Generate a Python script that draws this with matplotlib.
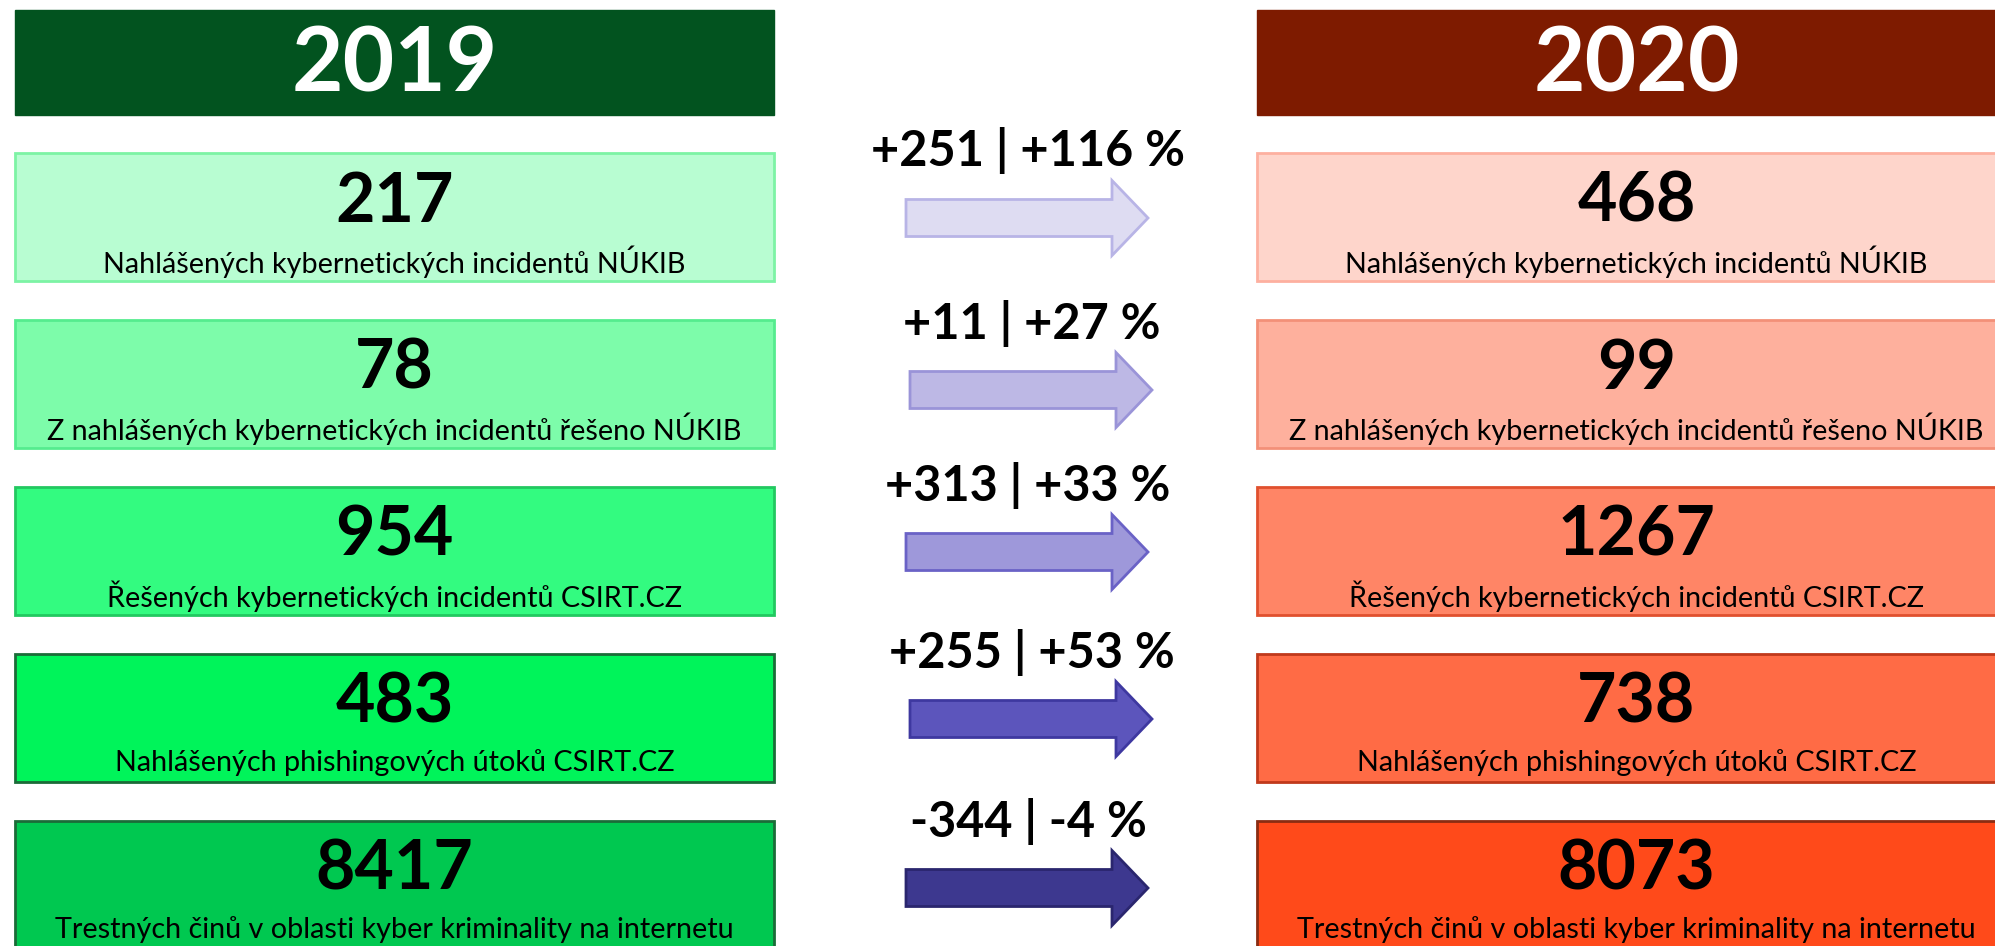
import matplotlib
matplotlib.use("Agg")
import matplotlib.pyplot as plt
from matplotlib.patches import Rectangle, FancyArrow

plt.rcParams['font.family'] = ['Lato', 'DejaVu Sans']

years = ["2019", "2020"]
labels = ["Nahlášených kybernetických incidentů NÚKIB",
          "Z nahlášených kybernetických incidentů řešeno NÚKIB",
          "Řešených kybernetických incidentů CSIRT.CZ",
          "Nahlášených phishingových útoků CSIRT.CZ",
          "Trestných činů v oblasti kyber kriminality na internetu"]
values_2019 = [217, 78, 954, 483, 8417]
values_2020 = [468, 99, 1267, 738, 8073]
change_abs = ["+251", "+11", "+313", "+255", "-344"]
change_pct = ["+116 %", "+27 %", "+33 %", "+53 %", "-4 %"]

# colours
head_cols = ["#02531F", "#7E1B00"]
green_fill = ["#B8FDD2", "#7DFCAA", "#33FB80", "#00F45A", "#00C850"]
green_edge = ["#7DF3A5", "#55EC8E", "#22C860", "#1B6B38", "#1B6B38"]
red_fill = ["#FED5CB", "#FEB09D", "#FF8566", "#FF6B45", "#FF4A1A"]
red_edge = ["#FDB0A0", "#F39078", "#E0502E", "#C0391B", "#8A2C12"]
arr_fill = ["#DEDCF2", "#BDB8E5", "#9E98DA", "#5C55BC", "#3D388F"]
arr_edge = ["#B8B4E6", "#9A94D8", "#6A62C6", "#3E38A0", "#2A266E"]

W, H = 1995, 946
fig = plt.figure(figsize=(W / 100, H / 100), dpi=100)
ax = fig.add_axes([0, 0, 1, 1])
ax.set_xlim(0, W)
ax.set_ylim(H, 0)
ax.axis("off")

col_x = [15, 1257]
col_w = 759
row_top = [153, 320, 487, 654, 821]
box_h = 128

# headers
for i, yr in enumerate(years):
    ax.add_patch(Rectangle((col_x[i], 10), col_w, 105, facecolor=head_cols[i],
                           edgecolor=head_cols[i], lw=1))
    ax.text(col_x[i] + col_w / 2, 66, yr, color="white", fontsize=64,
            fontweight="bold", ha="center", va="center")

# boxes
for j in range(len(labels)):
    for i, (vals, fc, ec) in enumerate([(values_2019, green_fill, green_edge),
                                         (values_2020, red_fill, red_edge)]):
        x0 = col_x[i]
        ax.add_patch(Rectangle((x0, row_top[j]), col_w, box_h, facecolor=fc[j],
                               edgecolor=ec[j], lw=2))
        ax.text(x0 + col_w / 2, row_top[j] + 49, str(vals[j]), fontsize=49,
                fontweight="bold", ha="center", va="center", color="black")
        ax.text(x0 + col_w / 2, row_top[j] + 109, labels[j], fontsize=20.7,
                ha="center", va="center", color="black")

# arrows and changes
arr_y = [218, 390, 552, 719, 888]
arr_x = [906, 910, 906, 910, 906]
for j in range(len(labels)):
    ax.add_patch(FancyArrow(arr_x[j], arr_y[j], 242, 0, width=37, head_width=75,
                            head_length=36, length_includes_head=True,
                            facecolor=arr_fill[j], edgecolor=arr_edge[j], lw=2))
    ax.text(arr_x[j] + 122, arr_y[j] - 67,
            change_abs[j] + " | " + change_pct[j], fontsize=35,
            fontweight="bold", ha="center", va="center", color="black")

fig.savefig("out.png", dpi=100)
